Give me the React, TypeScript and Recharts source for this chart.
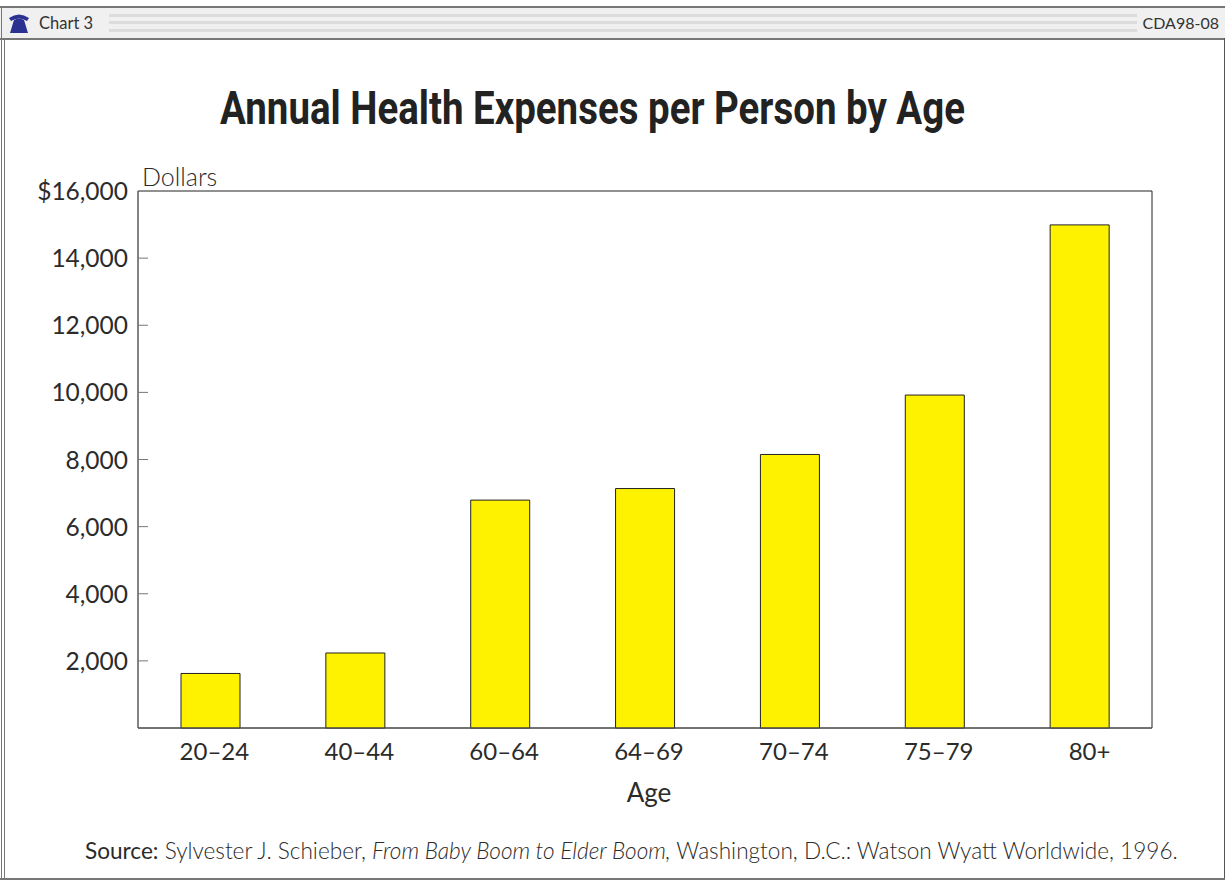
import React from 'react';
import { BarChart, Bar, XAxis, YAxis, ReferenceArea } from 'recharts';

const ageGroups = ['20–24', '40–44', '60–64', '64–69', '70–74', '75–79', '80+'];
const expenses = [1625, 2235, 6790, 7135, 8150, 9920, 14990];
const yTicks = [0, 2000, 4000, 6000, 8000, 10000, 12000, 14000, 16000];

const rows = ageGroups.map((age, i) => ({ age, expenses: expenses[i] }));

const BODY_FONT = 'Lato, "Open Sans", sans-serif';
const TEXT = '#2b2b2b';

const formatDollars = (value: number) =>
    value === 16000 ? '$16,000' : value.toLocaleString('en-US');

// Tick marks point into the plot, and the zero line has no label
const DollarTick = ({ x, y, payload }: any) => {
    if (payload.value === 0) return null;
    return (
        <g>
            {payload.value < 16000 && (
                <line x1={x} x2={x + 10} y1={y} y2={y} stroke="#777" strokeWidth={1} />
            )}
            <text
                x={x - 10}
                y={y + 9}
                textAnchor="end"
                fontFamily={BODY_FONT}
                fontSize={24.5}
                fill={TEXT}
            >
                {formatDollars(payload.value)}
            </text>
        </g>
    );
};

const AgeTick = ({ x, y, payload }: any) => (
    <text
        x={x + (payload.value === '80+' ? 10 : 4)}
        y={y + 32}
        textAnchor="middle"
        fontFamily={BODY_FONT}
        fontSize={24}
        fill={TEXT}
    >
        {payload.value}
    </text>
);

const absolute = (style: React.CSSProperties): React.CSSProperties => ({
    position: 'absolute',
    ...style,
});

const HeaderBar = () => (
    <>
        <div style={absolute({ left: 0, top: 6, width: 1225, height: 2, background: '#777' })} />
        <div style={absolute({ left: 0, top: 8, width: 1225, height: 30, background: '#f0f0f0' })} />
        <div style={absolute({ left: 0, top: 38, width: 1225, height: 2, background: '#777' })} />
        {[14, 21, 29].map((top) => (
            <div
                key={top}
                style={absolute({ left: 109, top, width: 1028, height: 3, background: '#dcdcdc' })}
            />
        ))}
        <svg width={20} height={19} style={absolute({ left: 9, top: 14 })}>
            <path d="M0 4 Q10 -3 20 4 L18 7 Q10 2 2 7 Z" fill="#2b3190" />
            <path d="M5 6 Q10 3 15 6 L19 19 L1 19 Z" fill="#2b3190" />
        </svg>
        <div style={absolute({ left: 39, top: 13, fontFamily: BODY_FONT, fontSize: 16.5, color: '#333' })}>
            Chart 3
        </div>
        <div style={absolute({ right: 6, top: 13, fontFamily: BODY_FONT, fontSize: 16, color: '#333' })}>
            CDA98-08
        </div>
    </>
);

const App: React.FC = () => (
    <div
        style={absolute({ left: 0, top: 0, width: 1225, height: 880, background: '#fff', overflow: 'hidden' })}
    >
        <BarChart
            width={1225}
            height={880}
            data={rows}
            margin={{ top: 191, right: 73, bottom: 92, left: 0 }}
            style={absolute({ left: 0, top: 0 })}
        >
            <ReferenceArea y1={0} y2={16000} fill="none" stroke="#222" strokeWidth={1} ifOverflow="visible" />
            <XAxis
                dataKey="age"
                height={60}
                axisLine={{ stroke: '#555' }}
                tickLine={false}
                tickSize={0}
                tickMargin={0}
                tick={<AgeTick />}
                interval={0}
                label={{
                    value: 'Age',
                    position: 'insideBottom',
                    offset: -14,
                    dx: 4,
                    fontFamily: BODY_FONT,
                    fontSize: 26,
                    fill: TEXT,
                }}
            />
            <YAxis
                width={138}
                domain={[0, 16000]}
                ticks={yTicks}
                interval={0}
                axisLine={{ stroke: '#777' }}
                tickLine={false}
                tickSize={0}
                tickMargin={0}
                tick={<DollarTick />}
            />
            <Bar
                dataKey="expenses"
                barSize={59}
                fill="#fff200"
                stroke="#222"
                strokeWidth={1}
                isAnimationActive={false}
            />
        </BarChart>

        <HeaderBar />

        {/* window frame */}
        <div style={absolute({ left: 1, top: 6, width: 1, height: 874, background: '#777' })} />
        <div style={absolute({ left: 4, top: 38, width: 1, height: 842, background: '#777' })} />
        <div style={absolute({ left: 1224, top: 38, width: 1, height: 842, background: '#555' })} />
        <div style={absolute({ left: 0, top: 878, width: 1225, height: 2, background: '#777' })} />

        <div
            style={absolute({
                left: 0,
                width: 1185,
                top: 81,
                textAlign: 'center',
                fontFamily: 'Roboto, sans-serif',
                fontWeight: 700,
                fontSize: 46,
                color: '#222',
                whiteSpace: 'nowrap',
                transform: 'scaleX(0.836)',
                transformOrigin: '592.5px 0',
            })}
        >
            Annual Health Expenses per Person by Age
        </div>
        <div
            style={absolute({
                left: 142,
                top: 161,
                fontFamily: BODY_FONT,
                fontWeight: 300,
                fontSize: 25,
                color: TEXT,
            })}
        >
            Dollars
        </div>
        <div
            style={absolute({
                left: 85,
                top: 837,
                fontFamily: BODY_FONT,
                fontSize: 22.6,
                fontWeight: 300,
                color: TEXT,
                whiteSpace: 'nowrap',
            })}
        >
            <span style={{ fontWeight: 400 }}>Source:</span> Sylvester J. Schieber,{' '}
            <em>From Baby Boom to Elder Boom,</em> Washington, D.C.: Watson Wyatt Worldwide, 1996.
        </div>
    </div>
);

export default App;
